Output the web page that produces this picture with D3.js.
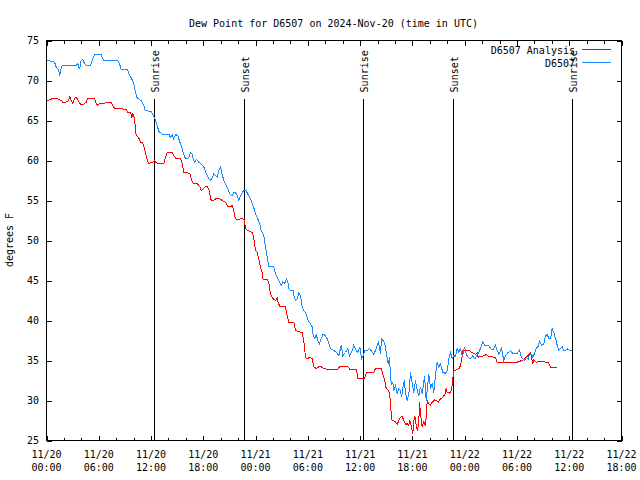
<!DOCTYPE html>
<html><head><meta charset="utf-8">
<script src="https://cdn.jsdelivr.net/npm/d3@7"></script>
<style>
body{margin:0;background:#fff}
svg{display:block}
text{font-family:"DejaVu Sans Mono",monospace;font-size:10px;fill:#000}
</style>
</head><body>
<svg id="chart" width="640" height="480"></svg>
<script>
const chartTitle = "Dew Point for D6507 on 2024-Nov-20 (time in UTC)";
const yAxisTitle = "degrees F";
const seriesNames = ["D6507 Analysis", "D6507"];
const seriesColors = ["#ff0000", "#1a88ff"];
const timeStart = "2024-11-20T00:00:00Z";
const timeEnd = "2024-11-22T18:00:00Z";
const yTickValues = [25, 30, 35, 40, 45, 50, 55, 60, 65, 70, 75];
const sunEventTimes = ["2024-11-20T12:26:00Z","2024-11-20T22:46:00Z","2024-11-21T12:25:00Z","2024-11-21T22:45:00Z","2024-11-22T12:25:00Z"];
const sunEventLabels = ["Sunrise","Sunset","Sunrise","Sunset","Sunrise"];

// hours since 2024-11-20 00:00 UTC
const analysisHours = [
0,0.15,0.61,1.30,1.69,1.87,2.26,2.53,2.67,2.84,
3.02,3.21,3.41,3.59,3.71,3.98,4.28,4.56,4.74,5.51,
5.70,5.89,6.08,6.66,6.85,7.43,7.61,7.81,8.64,8.84,
9.15,9.33,9.64,9.79,9.91,10.02,10.18,10.30,10.56,10.79,
11.05,11.25,11.44,11.71,12.20,12.40,12.51,12.89,13.46,13.66,
13.85,14.43,14.61,14.92,15.38,15.58,15.76,16.45,16.61,16.84,
17.30,17.60,17.76,18.05,18.25,18.51,18.74,18.82,19.13,19.40,
19.78,20.17,20.55,20.81,21.12,21.31,21.50,21.69,22.07,22.46,
22.73,22.84,23.04,23.42,23.61,23.73,23.88,23.99,24.18,24.37,
24.56,24.76,24.87,25.33,25.52,25.63,25.79,26.02,26.28,26.48,
26.55,26.78,26.86,27.43,27.55,27.81,28.39,28.58,28.96,29.35,
29.53,29.73,29.92,30.22,30.50,30.68,30.99,31.25,31.53,31.83,
32.29,33.44,33.67,33.94,34.32,34.58,34.81,35.58,35.73,36.24,
36.50,36.73,36.81,37.57,37.76,38.45,38.60,38.83,38.99,39.29,
39.48,39.60,39.86,40.06,40.25,40.44,40.63,40.83,41.01,41.21,
41.40,41.59,41.70,41.89,42.04,42.16,42.27,42.35,42.55,42.73,
42.81,43.01,43.12,43.31,43.50,43.58,43.70,43.88,44.08,44.27,
44.57,44.73,44.96,45.22,45.49,45.72,45.88,45.99,46.26,46.49,
46.64,46.75,46.95,47.40,47.63,47.78,48.01,48.55,48.78,49.04,
49.24,49.44,49.55,49.81,50.31,50.47,50.70,51.54,51.73,52.31,
52.99,53.64,54.03,54.29,54.60,54.98,55.36,55.55,55.67,55.82,
55.94,56.21,56.70,57.28,57.59,57.73,57.85,58.62];
const analysisValues = [
67.5,67.5,67.7,67.7,67.5,67.3,67.3,67.5,68.0,67.5,
67.1,67.8,67.9,67.6,67.3,67.0,67.0,67.3,67.8,67.8,
67.1,66.9,67.1,67.1,67.3,67.3,66.9,66.5,66.5,66.4,
66.4,66.0,66.0,65.4,65.8,65.6,64.4,63.1,62.9,62.3,
62.2,61.5,60.6,59.6,59.8,60.0,59.8,59.6,59.6,60.4,
61.0,61.0,60.6,60.2,60.2,59.6,58.5,58.4,57.7,57.1,
57.1,56.7,56.25,56.5,56.75,56.7,56.0,55.1,55.0,55.2,
55.3,55.0,54.8,54.25,54.2,54.4,53.75,52.7,52.6,52.8,
52.5,51.5,51.25,51.1,51.0,50.6,49.6,48.75,48.5,47.7,
46.7,46.0,45.1,45.1,44.8,43.75,43.1,42.7,42.5,42.8,
42.4,41.75,41.7,41.7,41.0,39.8,39.8,38.75,38.6,38.5,
37.5,35.4,35.2,35.4,35.2,34.2,34.0,34.2,34.2,34.0,
33.9,33.9,34.25,34.2,34.2,34.25,33.9,33.9,32.8,32.7,
32.8,33.5,33.5,33.5,34.0,34.0,33.3,32.5,31.5,31.25,
30.0,27.6,27.5,27.3,27.0,27.5,27.9,28.0,27.5,27.0,
27.1,26.9,27.5,26.7,25.8,27.4,28.1,27.5,26.25,27.1,
29.8,27.5,26.7,27.3,26.9,27.9,30.0,29.6,29.4,29.8,
30.1,30.0,29.8,30.2,30.4,30.75,31.5,31.0,30.9,31.25,
32.7,33.75,33.8,34.0,34.9,36.25,36.3,36.3,36.0,35.9,
35.75,35.9,35.4,35.5,35.6,35.8,35.5,35.4,34.7,34.8,
34.8,34.7,34.8,34.9,35.0,35.3,35.75,36.0,35.4,34.6,
35.1,34.8,34.9,34.8,34.8,34.5,34.1,34.1];

const stationHours = [
0,0.23,0.92,1.11,1.38,1.53,1.61,1.76,2.07,3.41,
3.59,3.79,3.98,4.17,4.36,4.56,5.05,5.31,5.51,6.28,
6.58,8.18,8.38,8.57,9.26,9.53,9.79,10.02,10.18,10.41,
10.87,11.17,11.33,12.02,12.40,12.71,12.89,13.09,13.28,14.04,
14.23,14.43,14.61,14.81,15.07,15.30,15.46,15.69,15.87,16.07,
16.33,16.53,16.72,16.84,16.99,17.22,17.48,17.68,18.05,18.36,
18.63,18.82,19.02,19.20,19.40,19.59,19.78,19.97,20.17,20.35,
20.55,20.81,21.04,21.31,21.50,21.69,21.89,22.07,22.27,22.46,
22.65,22.92,23.10,23.42,23.61,23.79,24.02,24.25,24.48,24.56,
24.76,24.94,25.14,25.33,25.52,26.09,26.28,26.48,26.66,26.94,
27.12,27.32,27.55,27.70,27.81,28.01,28.32,28.39,28.58,28.78,
28.96,29.15,29.35,29.53,29.73,29.92,30.11,30.30,30.50,30.61,
30.80,30.96,31.14,31.33,31.53,31.76,32.02,32.22,32.40,32.60,
32.98,33.29,33.55,33.83,34.01,34.32,34.58,34.78,35.09,35.27,
35.55,35.73,35.96,36.16,36.42,36.53,36.81,37.07,37.30,37.57,
37.84,38.07,38.22,38.34,38.45,38.72,38.91,39.11,39.22,39.37,
39.48,39.60,39.75,39.86,40.06,40.25,40.44,40.63,40.75,40.90,
41.06,41.21,41.40,41.59,41.78,41.98,42.16,42.35,42.55,42.73,
42.93,43.12,43.31,43.39,43.58,43.77,43.88,44.08,44.27,44.45,
44.65,44.84,45.03,45.22,45.49,45.80,45.99,46.18,46.37,46.57,
46.75,46.95,47.14,47.33,47.52,47.63,47.78,47.98,48.17,48.40,
48.67,48.93,49.16,49.44,49.62,49.81,50.08,50.31,50.77,50.96,
51.23,51.54,51.73,51.92,52.23,52.38,52.49,52.68,52.99,53.26,
53.52,54.03,54.29,54.44,54.67,54.86,55.06,55.29,55.44,55.67,
55.82,56.05,56.21,56.44,56.59,56.82,57.08,57.28,57.47,57.65,
57.85,58.04,58.23,58.42,58.62,58.80,59.00,59.19,59.38,59.65,
59.84,60.03,60.34];
const stationValues = [
72.6,72.5,72.3,71.7,71.4,70.6,71.3,71.8,71.9,71.9,
72.1,71.4,72.5,72.6,72.1,71.9,71.9,72.7,73.2,73.2,
72.5,72.5,72.1,71.4,71.4,70.7,70.2,69.5,68.75,67.8,
67.5,66.9,66.25,66.1,65.3,64.4,63.6,63.5,63.3,63.3,
62.9,63.25,62.7,63.25,63.1,62.3,61.9,61.0,60.4,60.2,
60.4,61.0,60.8,60.2,59.8,60.1,59.8,59.6,59.2,58.3,
57.7,57.5,57.9,58.3,58.1,57.9,58.75,59.2,58.25,57.5,
57.1,56.5,55.8,55.6,56.0,56.0,55.6,55.0,55.6,56.0,
56.25,56.2,55.8,55.2,54.6,54.1,53.3,52.7,52.1,51.5,
51.0,50.6,49.2,47.9,46.75,46.7,45.8,45.4,45.0,44.4,
44.8,44.6,45.2,44.8,44.0,43.75,43.75,43.1,42.5,42.7,
43.5,43.1,41.7,41.25,41.0,40.4,39.8,39.6,39.2,38.1,
37.7,38.25,37.5,37.1,37.7,38.3,38.1,37.7,37.1,36.5,
36.25,36.0,35.6,36.9,35.6,36.0,36.5,35.6,36.25,36.9,
36.25,36.0,36.7,35.2,35.8,36.2,36.2,36.5,36.2,35.75,
36.5,37.3,36.7,35.8,37.7,37.4,36.7,35.2,34.6,35.4,
33.1,31.9,32.3,31.25,31.9,30.8,31.5,31.25,30.4,31.5,
32.5,31.0,30.0,30.8,33.5,32.1,31.0,32.5,31.25,30.6,
31.7,30.8,32.3,33.1,30.0,32.1,33.3,31.5,32.1,31.0,
33.1,34.8,34.2,34.6,33.5,33.4,33.75,35.2,36.0,35.2,
35.6,35.5,36.5,36.0,36.6,35.75,35.6,36.7,35.8,35.4,
35.2,35.6,35.2,35.75,36.0,36.5,37.3,36.9,36.9,36.5,
36.3,36.9,36.25,35.8,36.5,35.6,35.0,35.6,36.0,36.25,
35.9,35.9,36.3,35.6,35.2,35.0,35.4,35.2,35.75,35.8,
35.4,36.0,36.5,36.75,37.4,36.9,37.1,38.1,38.25,37.8,
37.7,39.0,38.5,37.8,36.9,36.25,36.5,36.7,36.25,36.3,
36.5,36.25,36.25];

// ---------- drawing ----------
const W = 640, H = 480;
const plot = {left: 46, right: 621, top: 40, bottom: 440};
const t0 = new Date(timeStart), t1 = new Date(timeEnd);
const toDate = h => new Date(t0.getTime() + h * 3600e3);

const x = d3.scaleUtc().domain([t0, t1]).range([plot.left, plot.right]);
const y = d3.scaleLinear().domain([25, 75]).range([plot.bottom, plot.top]);

const svg = d3.select("#chart");
svg.append("rect").attr("width", W).attr("height", H).attr("fill", "#fff");

const g = svg.append("g").attr("transform", "translate(0.5,0.5)");

const majorTicks = d3.utcHour.every(6).range(t0, new Date(t1.getTime() + 1));
const minorTicks = d3.utcHour.every(2).range(t0, new Date(t1.getTime() + 1))
  .filter(d => d.getUTCHours() % 6 !== 0);

function styleAxis(sel) {
  sel.select(".domain").remove();
  sel.selectAll("line").attr("stroke", "#000").attr("shape-rendering", "crispEdges");
  sel.selectAll("text").remove();
}

// bottom & top ticks (inward)
g.append("g").attr("transform", `translate(0,${plot.bottom})`)
  .call(d3.axisBottom(x).tickValues(majorTicks).tickSize(-5).tickFormat("")).call(styleAxis);
g.append("g").attr("transform", `translate(0,${plot.bottom})`)
  .call(d3.axisBottom(x).tickValues(minorTicks).tickSize(-3).tickFormat("")).call(styleAxis);
g.append("g").attr("transform", `translate(0,${plot.top})`)
  .call(d3.axisTop(x).tickValues(majorTicks).tickSize(-5).tickFormat("")).call(styleAxis);
g.append("g").attr("transform", `translate(0,${plot.top})`)
  .call(d3.axisTop(x).tickValues(minorTicks).tickSize(-3).tickFormat("")).call(styleAxis);
// left & right ticks (inward)
g.append("g").attr("transform", `translate(${plot.left},0)`)
  .call(d3.axisLeft(y).tickValues(yTickValues).tickSize(-5).tickFormat("")).call(styleAxis);
g.append("g").attr("transform", `translate(${plot.right},0)`)
  .call(d3.axisRight(y).tickValues(yTickValues).tickSize(-5).tickFormat("")).call(styleAxis);

// border
g.append("rect")
  .attr("x", plot.left).attr("y", plot.top)
  .attr("width", plot.right - plot.left).attr("height", plot.bottom - plot.top)
  .attr("fill", "none").attr("stroke", "#000").attr("shape-rendering", "crispEdges");

// y tick labels
svg.append("g").selectAll("text").data(yTickValues).join("text")
  .attr("x", 39).attr("y", d => y(d) + 3.5)
  .attr("text-anchor", "end").text(d => d);

// x tick labels (two lines)
const fmtDay = d3.utcFormat("%m/%d"), fmtTime = d3.utcFormat("%H:%M");
const xl = svg.append("g").selectAll("g").data(majorTicks).join("g");
xl.append("text").attr("x", d => x(d) + 0.5).attr("y", 457.5).attr("text-anchor", "middle").text(fmtDay);
xl.append("text").attr("x", d => x(d) + 0.5).attr("y", 470.5).attr("text-anchor", "middle").text(fmtTime);

// title & y axis title
svg.append("text").attr("x", (plot.left + plot.right) / 2).attr("y", 26.5)
  .attr("text-anchor", "middle").text(chartTitle);
svg.append("text").attr("transform", `translate(13,${(plot.top + plot.bottom) / 2}) rotate(-90)`)
  .attr("text-anchor", "middle").text(yAxisTitle);

// sunrise / sunset markers
const sunTop = 67.7;
sunEventTimes.forEach((ts, i) => {
  const sx = Math.round(x(new Date(ts)));
  g.append("line").attr("x1", sx).attr("x2", sx)
    .attr("y1", Math.round(y(sunTop))).attr("y2", plot.bottom)
    .attr("stroke", "#000").attr("shape-rendering", "crispEdges");
  svg.append("text")
    .attr("transform", `translate(${sx + 4.5},${y(sunTop) - 6}) rotate(-90)`)
    .attr("text-anchor", "start").text(sunEventLabels[i]);
});

// data lines
const line = d3.line().x(d => x(d[0])).y(d => y(d[1]));
const seriesData = [
  analysisHours.map((h, i) => [toDate(h), analysisValues[i]]),
  stationHours.map((h, i) => [toDate(h), stationValues[i]])
];
seriesData.forEach((pts, i) => {
  g.append("path").datum(pts)
    .attr("d", line).attr("fill", "none")
    .attr("stroke", seriesColors[i]).attr("stroke-width", 1)
    .attr("shape-rendering", "crispEdges");
});

// legend
seriesNames.forEach((name, i) => {
  const ly = 49 + i * 13;
  svg.append("text").attr("x", 575).attr("y", ly + 4.5).attr("text-anchor", "end").text(name);
  g.append("line").attr("x1", 581).attr("x2", 610).attr("y1", ly).attr("y2", ly)
    .attr("stroke", seriesColors[i]).attr("shape-rendering", "crispEdges");
});
</script>
</body></html>
